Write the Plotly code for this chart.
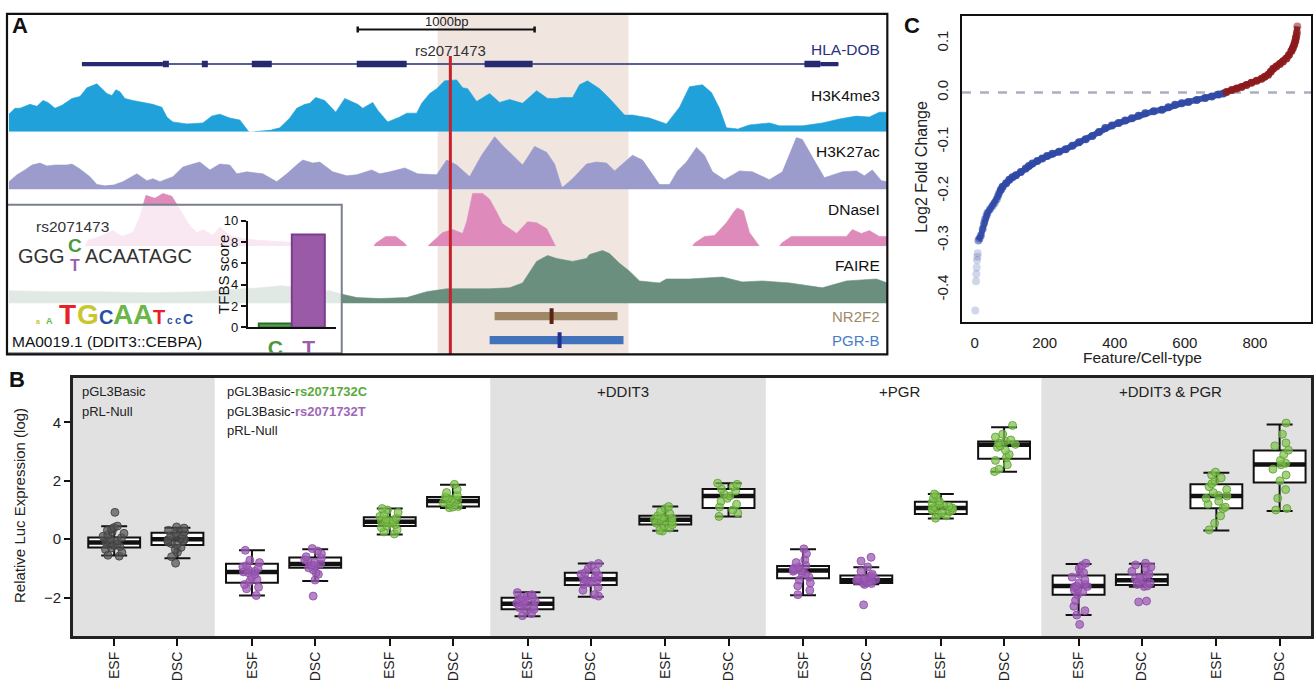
import plotly.graph_objects as go

W, H = 1314, 694
FONT = "Liberation Sans, Arial, Helvetica, sans-serif"


def fx(px):
    return px / W


def fy(py):
    return 1 - py / H


# ------------------------------------------------------------------ Panel A data
# locus positions in track units (1000 bp = 177 units)
locus_range = [7, 888]
scalebar = [358, 535]
snp_pos = 450.7
highlight_region = [438, 629]

gene_name = "HLA-DOB"
gene_span = [82, 839]
exon_start = [82, 163, 202, 252, 357, 485, 805, 821]
exon_end = [163, 169, 208, 272, 407, 533, 821, 839]
exon_type = ["utr", "cds", "cds", "cds", "cds", "cds", "cds", "utr"]

tfbs_names = ["NR2F2", "PGR-B"]
tfbs_start = [495, 490]
tfbs_end = [618, 624]
tfbs_summit = [552, 560]

h3k4me3_pos = [9, 15, 20, 30, 37, 43, 48, 55, 62, 72, 80, 87, 97, 102, 107, 112, 116, 120, 125, 133,
               143, 153, 162, 167, 173, 187, 203, 212, 220, 230, 240, 245, 249,
               260,
               272, 280, 290, 297, 305, 310, 316, 325, 336, 345, 358, 363, 373, 378, 388, 400, 407, 417,
               422, 430, 437, 445, 457, 463, 468, 477, 490, 500, 510, 523, 537, 548, 557, 562, 573, 580,
               588, 600, 610, 625, 633, 650, 667, 680, 690, 703, 712, 720, 727, 737,
               738,
               739, 750, 770, 780, 803, 823, 840, 857, 870, 880, 888]
h3k4me3_sig = [18, 24, 24, 28, 26, 32, 30, 24, 27, 34, 36, 45, 49, 44, 39, 37, 43, 41, 34, 32,
               30, 28, 25, 15, 10, 8, 9, 16, 18, 14, 12, 5, 0,
               None,
               2, 4, 14, 24, 28, 29, 35, 32, 20, 34, 28, 24, 30, 22, 10, 15, 19, 19,
               29, 39, 44, 52, 53, 45, 44, 31, 39, 30, 33, 29, 42, 34, 34, 35, 35, 48,
               52, 44, 34, 17, 17, 14, 8, 25, 46, 48, 40, 24, 4, 3,
               None,
               3, 7, 9, 6, 6, 9, 13, 16, 15, 20, 20]

h3k27ac_pos = [9, 17, 25, 32, 40, 47, 55, 67, 72, 80, 90, 97, 104,
               110,
               115, 123, 137, 147, 153, 160, 173, 183, 193, 200, 210, 220, 230, 237, 247, 263, 277, 287,
               298, 303, 313, 320, 333, 347, 357, 372, 380, 390, 405, 418, 437, 447, 457, 470, 482, 495,
               503, 517, 523, 535, 547, 555, 562,
               563,
               564, 573, 587, 597, 607, 615, 633, 643, 660, 670, 678, 687, 697, 705, 713, 725, 740, 753,
               770, 783, 797, 803, 817, 825, 843, 857, 865, 873, 882, 888]
h3k27ac_sig = [8, 15, 20, 25, 27, 24, 25, 25, 26, 21, 13, 5, 4,
               None,
               5, 8, 16, 9, 11, 8, 13, 23, 26, 28, 20, 26, 25, 16, 18, 16, 8, 16,
               26, 30, 27, 28, 18, 14, 15, 20, 16, 18, 22, 16, 15, 30, 25, 13, 35, 54,
               45, 31, 25, 44, 38, 26, 3,
               None,
               3, 11, 26, 28, 27, 19, 35, 30, 5, 5, 19, 28, 43, 35, 18, 10, 19, 18,
               10, 18, 53, 51, 26, 12, 18, 19, 14, 20, 9, 8]

dnase_pos = [85, 88, 100, 113, 122, 133, 140, 146, 155, 163, 172, 180, 190, 197, 203, 213, 220, 230,
             243, 260, 280, 293, 296,
             330,
             374, 376, 386, 396, 405, 407,
             415,
             428, 430, 443, 453, 463, 467, 473, 483, 490, 497, 503, 517, 528, 537, 547, 556,
             600,
             693, 695, 705, 715, 727, 735, 738, 744, 750, 760,
             770,
             780, 782, 792, 847, 853, 862, 870, 880, 888]
dnase_sig = [0, 6, 10, 16, 10, 14, 30, 52, 49, 54, 51, 38, 21, 14, 17, 11, 20, 11,
             8, 6, 5, 4, 0,
             None,
             0, 3, 10, 10, 3, 0,
             None,
             0, 2, 14, 17, 13, 25, 54, 54, 48, 35, 23, 13, 25, 24, 18, 0,
             None,
             0, 3, 10, 11, 24, 36, 39, 36, 14, 0,
             None,
             0, 3, 10, 10, 17, 13, 16, 10, 10]

faire_pos = [9, 50, 100, 150, 200, 233, 260, 280, 293, 310, 330, 340, 357, 380, 407, 427, 447, 473,
             490, 510, 523, 530, 537, 548, 557, 573, 587, 590, 603, 610, 620, 630, 640, 660, 667,
             690, 723, 743, 763, 790, 823, 847, 877, 888]
faire_sig = [13, 12, 12, 11, 12, 14, 16, 18, 17, 13, 13, 10, 6, 5, 6, 12, 15, 15,
             15, 16, 21, 32, 43, 49, 46, 43, 46, 50, 54, 51, 41, 33, 23, 21, 25,
             25, 27, 22, 23, 21, 16, 23, 25, 21]

snp_id = "rs2071473"
tfbs_alleles = ["C", "T"]
tfbs_score = [0.4, 8.7]

# ------------------------------------------------------------------ Panel B data
cell_types = ["ESF", "DSC"]
section_titles = ["+DDIT3", "+PGR", "+DDIT3 & PGR"]
box_allele = ["null", "null", "T", "T", "C", "C", "T", "T", "C", "C",
              "T", "T", "C", "C", "T", "T", "C", "C"]
box_q1 = [-0.28, -0.20, -1.49, -0.98, 0.45, 1.12, -2.40, -1.57, 0.50, 1.07,
          -1.34, -1.50, 0.86, 2.76, -1.90, -1.57, 1.06, 1.94]
box_median = [-0.11, 0.00, -1.12, -0.85, 0.60, 1.31, -2.21, -1.37, 0.67, 1.48,
              -1.07, -1.41, 1.07, 3.24, -1.60, -1.41, 1.48, 2.56]
box_q3 = [0.06, 0.22, -0.84, -0.63, 0.75, 1.45, -2.01, -1.15, 0.80, 1.72,
          -0.92, -1.24, 1.28, 3.35, -1.24, -1.21, 1.88, 3.04]
box_low = [-0.56, -0.65, -1.93, -1.43, 0.16, 1.07, -2.64, -1.97, 0.29, 0.78,
           -1.92, -1.54, 0.71, 2.31, -2.60, -1.63, 0.30, 0.97]
box_high = [0.44, 0.39, -0.38, -0.34, 1.05, 1.87, -1.82, -0.83, 1.12, 1.92,
            -0.34, -0.96, 1.55, 3.84, -0.85, -0.84, 2.28, 3.93]

null_ESF = [0.92, 0.45, 0.40, 0.35, 0.30, 0.25, 0.2, 0.15, 0.1, 0.05, 0.0, -0.05, -0.1, -0.12,
            -0.15, -0.2, -0.25, -0.3, -0.35, -0.45, -0.55, -0.58]
null_DSC = [0.42, 0.38, 0.3, 0.25, 0.2, 0.15, 0.12, 0.08, 0.02, 0.0, -0.02, -0.05, -0.1, -0.15,
            -0.2, -0.28, -0.35, -0.45, -0.6, -0.82]
T_ESF = [-0.38, -0.72, -0.8, -0.9, -0.95, -1.0, -1.05, -1.1, -1.12, -1.15, -1.2, -1.3, -1.38,
         -1.45, -1.55, -1.65, -1.7, -1.93]
T_DSC = [-0.32, -0.4, -0.5, -0.6, -0.65, -0.7, -0.75, -0.8, -0.85, -0.88, -0.92, -0.98, -1.05,
         -1.15, -1.2, -1.4, -1.95]
C_ESF = [1.05, 1.0, 0.92, 0.85, 0.78, 0.72, 0.68, 0.65, 0.62, 0.6, 0.58, 0.55, 0.5, 0.45, 0.4,
         0.32, 0.25, 0.18]
C_DSC = [1.88, 1.7, 1.6, 1.5, 1.45, 1.4, 1.38, 1.35, 1.3, 1.28, 1.25, 1.22, 1.18, 1.12, 1.1, 1.08]
DDIT3_T_ESF = [-1.83, -1.9, -1.95, -2.0, -2.0, -2.05, -2.1, -2.12, -2.15, -2.2, -2.22, -2.25,
               -2.3, -2.35, -2.4, -2.45, -2.55, -2.62]
DDIT3_T_DSC = [-0.83, -0.9, -1.0, -1.1, -1.15, -1.2, -1.25, -1.3, -1.35, -1.38, -1.4, -1.45,
               -1.5, -1.55, -1.65, -1.75, -1.9, -1.95]
DDIT3_C_ESF = [1.12, 1.05, 0.95, 0.88, 0.8, 0.75, 0.72, 0.7, 0.68, 0.65, 0.62, 0.6, 0.55, 0.5,
               0.45, 0.38, 0.3, 0.28]
DDIT3_C_DSC = [1.92, 1.88, 1.8, 1.72, 1.65, 1.55, 1.48, 1.4, 1.3, 1.2, 1.1, 1.0, 0.9, 0.78]
PGR_T_ESF = [-0.33, -0.5, -0.7, -0.8, -0.9, -0.95, -1.0, -1.0, -1.02, -1.05, -1.08, -1.1, -1.15,
             -1.2, -1.3, -1.4, -1.5, -1.6, -1.75, -1.9]
PGR_T_DSC = [-0.62, -0.75, -0.95, -1.1, -1.2, -1.25, -1.3, -1.33, -1.36, -1.38, -1.4, -1.42,
             -1.45, -1.48, -1.5, -1.52, -1.55, -2.25]
PGR_C_ESF = [1.55, 1.5, 1.4, 1.3, 1.25, 1.2, 1.15, 1.12, 1.1, 1.07, 1.05, 1.0, 0.98, 0.95, 0.9,
             0.85, 0.8, 0.72]
PGR_C_DSC = [3.9, 3.6, 3.5, 3.4, 3.35, 3.3, 3.25, 3.2, 3.15, 3.05, 2.9, 2.8, 2.7, 2.55, 2.4, 2.32]
BOTH_T_ESF = [-0.82, -0.9, -1.0, -1.15, -1.2, -1.3, -1.4, -1.5, -1.55, -1.6, -1.62, -1.65, -1.7,
              -1.75, -1.8, -1.9, -2.1, -2.3, -2.45, -2.6, -2.92]
BOTH_T_DSC = [-0.82, -0.88, -0.95, -1.0, -1.1, -1.2, -1.25, -1.3, -1.35, -1.4, -1.45, -1.5,
              -1.55, -1.6, -1.62, -2.12, -2.15]
BOTH_C_ESF = [2.3, 2.2, 2.1, 2.0, 1.9, 1.8, 1.7, 1.6, 1.5, 1.48, 1.4, 1.3, 1.2, 1.1, 1.05, 0.8,
              0.55, 0.32]
BOTH_C_DSC = [3.98, 3.6, 3.3, 3.2, 3.05, 2.9, 2.7, 2.6, 2.55, 2.4, 2.2, 2.0, 1.7, 1.4, 1.05, 1.0]

box_points = [null_ESF, null_DSC, T_ESF, T_DSC, C_ESF, C_DSC,
              DDIT3_T_ESF, DDIT3_T_DSC, DDIT3_C_ESF, DDIT3_C_DSC,
              PGR_T_ESF, PGR_T_DSC, PGR_C_ESF, PGR_C_DSC,
              BOTH_T_ESF, BOTH_T_DSC, BOTH_C_ESF, BOTH_C_DSC]

# ------------------------------------------------------------------ Panel C data
feature_rank = [2, 4, 5, 6, 7, 8, 9, 11, 14, 18, 23, 27, 30, 34, 37, 44, 51, 57, 63, 67, 70, 75,
                80, 90, 99, 108, 118, 132, 146, 155, 165, 179, 193, 207, 222, 241, 260, 279, 298,
                317, 336, 355, 373, 392, 411, 430, 449, 468, 487, 511, 535, 553, 572, 591, 610,
                634, 658, 677, 696, 710, 719, 734, 748, 762, 776, 790, 805, 819, 828, 838, 845,
                852, 861, 871, 880, 890, 897, 904, 908, 912, 915, 917, 919, 920, 921]
log2fc = [-0.442, -0.383, -0.368, -0.355, -0.340, -0.333, -0.326, -0.300, -0.296, -0.290, -0.277,
          -0.265, -0.257, -0.250, -0.244, -0.237, -0.230, -0.224, -0.217, -0.210, -0.204, -0.197,
          -0.191, -0.184, -0.177, -0.172, -0.168, -0.161, -0.154, -0.149, -0.144, -0.139, -0.134,
          -0.129, -0.124, -0.120, -0.115, -0.108, -0.101, -0.095, -0.088, -0.080, -0.072, -0.067,
          -0.062, -0.057, -0.052, -0.047, -0.042, -0.038, -0.035, -0.030, -0.025, -0.022, -0.019,
          -0.015, -0.011, -0.008, -0.004, -0.002, 0.001, 0.005, 0.008, 0.011, 0.015, 0.020,
          0.024, 0.028, 0.032, 0.036, 0.042, 0.048, 0.053, 0.058, 0.063, 0.069, 0.076, 0.084,
          0.090, 0.097, 0.104, 0.111, 0.117, 0.122, 0.134]

# ------------------------------------------------------------------ figure
fig = go.Figure()

track_specs = [
    ("H3K4me3", h3k4me3_pos, h3k4me3_sig, "#21a1da", "y", 127.5),
    ("H3K27ac", h3k27ac_pos, h3k27ac_sig, "#9b9bcc", "y2", 186.5),
    ("DNaseI", dnase_pos, dnase_sig, "#de8bbb", "y3", 244.5),
    ("FAIRE", faire_pos, faire_sig, "#6a8f7f", "y4", 303.0),
]
TRACK_H = 56
for name, pos, sig, col, yax, base in track_specs:
    fig.add_trace(go.Scatter(x=pos, y=sig, mode="lines", fill="tozeroy", fillcolor=col,
                             line=dict(color=col, width=0.6), xaxis="x", yaxis=yax,
                             hoverinfo="skip", connectgaps=False))

# translucent white inset background (drawn over tracks, under inset bar chart)
fig.add_trace(go.Scatter(x=[7, 342, 342, 7, 7], y=[202, 202, 354, 354, 202], mode="lines",
                         fill="toself", fillcolor="rgba(255,255,255,0.80)",
                         line=dict(width=0), xaxis="x", yaxis="y5", hoverinfo="skip"))

# inset bar chart
allele_fill = {"C": "#55a24c", "T": "#9a5aa8"}
allele_edge = {"C": "#2d6a2d", "T": "#7a3d8c"}
fig.add_trace(go.Bar(x=[0, 1], y=tfbs_score, width=0.98,
                     marker=dict(color=[allele_fill[a] for a in tfbs_alleles],
                                 line=dict(color=[allele_edge[a] for a in tfbs_alleles], width=2)),
                     xaxis="x2", yaxis="y6", hoverinfo="skip"))

# panel C
blue = "rgb(47,72,165)"
red = "rgb(140,26,28)"
for sel, col in [(lambda v: v <= 0, blue), (lambda v: v > 0, red)]:
    xs = [r for r, v in zip(feature_rank, log2fc) if sel(v) and v > -0.31]
    ys = [v for v in log2fc if sel(v) and v > -0.31]
    fig.add_trace(go.Scatter(x=xs, y=ys, mode="lines", line=dict(color=col, width=6),
                             opacity=0.9, xaxis="x3", yaxis="y7", hoverinfo="skip"))
pt_colors = [red if v > 0 else blue for v in log2fc]
pt_opac = [0.22 if (v < -0.31) else (0.55 if v < -0.2 or v > 0.115 else 0.9) for v in log2fc]
fig.add_trace(go.Scatter(x=feature_rank, y=log2fc, mode="markers",
                         marker=dict(color=pt_colors, size=8, opacity=pt_opac,
                                     line=dict(width=0)),
                         xaxis="x3", yaxis="y7", hoverinfo="skip"))

# panel B
pair_step = 2.178
box_x = [p * pair_step + j for p in range(9) for j in (0, 1)]
fig.add_trace(go.Box(x=box_x, q1=box_q1, median=box_median, q3=box_q3,
                     lowerfence=box_low, upperfence=box_high, width=0.82, whiskerwidth=0.5,
                     fillcolor="white", line=dict(color="#111", width=2), boxpoints=False,
                     xaxis="x4", yaxis="y8", hoverinfo="skip"))
fig.add_trace(go.Box(x=box_x, q1=box_median, median=box_median, q3=box_median,
                     lowerfence=box_median, upperfence=box_median, width=0.82, whiskerwidth=0,
                     fillcolor="rgba(0,0,0,0)", line=dict(color="#111", width=4.5),
                     boxpoints=False, xaxis="x4", yaxis="y8", hoverinfo="skip"))
point_style = {
    "null": ("rgba(85,85,85,0.72)", "rgba(60,60,60,0.8)"),
    "T": ("rgba(158,92,182,0.75)", "rgba(140,75,165,0.8)"),
    "C": ("rgba(128,194,76,0.72)", "rgba(95,160,55,0.85)"),
}
for allele, (fc, lc) in point_style.items():
    xs, ys = [], []
    for bx, al, pts in zip(box_x, box_allele, box_points):
        if al == allele:
            xs += [bx] * len(pts)
            ys += pts
    fig.add_trace(go.Box(x=xs, y=ys, boxpoints="all", jitter=0.45, pointpos=0, width=0.82,
                         fillcolor="rgba(0,0,0,0)", line=dict(width=0),
                         marker=dict(color=fc, size=8, line=dict(color=lc, width=1)),
                         xaxis="x4", yaxis="y8", hoverinfo="skip"))

# ------------------------------------------------------------------ shapes
shapes = []


def rect(x0, x1, y0, y1, fill, xref="x", yref="y5", layer="above", lc=None, lw=0, opacity=1):
    shapes.append(dict(type="rect", x0=x0, x1=x1, y0=y0, y1=y1, xref=xref, yref=yref,
                       fillcolor=fill, layer=layer, opacity=opacity,
                       line=dict(color=lc or fill, width=lw)))


def line(x0, x1, y0, y1, color, width, xref="x", yref="y5", layer="above", dash=None):
    shapes.append(dict(type="line", x0=x0, x1=x1, y0=y0, y1=y1, xref=xref, yref=yref,
                       layer=layer, line=dict(color=color, width=width, dash=dash)))


# highlight band (behind everything)
shapes.append(dict(type="rect", x0=highlight_region[0], x1=highlight_region[1], y0=fy(355),
                   y1=fy(8), xref="x", yref="paper", fillcolor="#f1e5e0", layer="below",
                   line=dict(width=0)))
# gene model
gene_y = 58.3
line(gene_span[0], gene_span[1], gene_y, gene_y, "#262a70", 1.4)
for s, e, t in zip(exon_start, exon_end, exon_type):
    hh = 2.2 if t == "utr" else 3.4
    rect(s, e, gene_y - hh, gene_y + hh, "#262a70")
# scale bar
line(scalebar[0], scalebar[1], 23, 23, "#111", 2.2)
line(scalebar[0], scalebar[0], 20, 26, "#111", 2.5)
line(scalebar[1], scalebar[1], 20, 26, "#111", 2.5)
# TF binding sites
tf_y = [316, 340.5]
tf_bar = ["#a08866", "#4273ba"]
tf_tick = ["#5a2414", "#232f8c"]
for i in range(len(tfbs_names)):
    rect(tfbs_start[i], tfbs_end[i], tf_y[i] - 4.2, tf_y[i] + 4.2, tf_bar[i])
    rect(tfbs_summit[i] - 2, tfbs_summit[i] + 2, tf_y[i] - 8, tf_y[i] + 8, tf_tick[i])
# SNP line
line(snp_pos, snp_pos, 50, 355, "#c5222b", 3)
# inset border + panel A frame
shapes.append(dict(type="rect", x0=fx(7), x1=fx(342), y0=fy(354), y1=fy(202), xref="paper",
                   yref="paper", line=dict(color="#7a808e", width=2), layer="above"))
shapes.append(dict(type="rect", x0=fx(7), x1=fx(888), y0=fy(355), y1=fy(7), xref="paper",
                   yref="paper", line=dict(color="#111", width=2.2), layer="above"))
# panel B section backgrounds
bounds = [-0.652] + [(p * pair_step + 1 + (p + 1) * pair_step) / 2 for p in (0, 2, 4, 6)] + [18.92]
for k in range(5):
    if k % 2 == 0:
        shapes.append(dict(type="rect", x0=bounds[k], x1=bounds[k + 1], y0=0, y1=1, xref="x4",
                           yref="y8 domain", fillcolor="#e1e1e1", layer="below",
                           line=dict(width=0)))
# panel C dashed zero line
shapes.append(dict(type="line", x0=0, x1=1, y0=0, y1=0, xref="x3 domain", yref="y7",
                   layer="below", line=dict(color="#a9aec0", width=2.5, dash="dash")))

# ------------------------------------------------------------------ annotations
anns = []


def ann(text, x, y, size, color="#222", xanchor="center", yanchor="middle", angle=0,
        family=FONT):
    anns.append(dict(text=text, x=fx(x), y=fy(y), xref="paper", yref="paper", showarrow=False,
                     xanchor=xanchor, yanchor=yanchor, textangle=angle,
                     font=dict(family=family, size=size, color=color)))


ann("<b>A</b>", 20, 19, 22, "#111")
ann("<b>B</b>", 17, 381, 22, "#111")
ann("<b>C</b>", 913, 19, 22, "#111")
ann("1000bp", 447, 15, 13)
ann(snp_id, 450.5, 44, 15, "#333")
ann(gene_name, 883, 43, 15.5, "#2b3080", xanchor="right")
track_label_y = [90, 148, 207, 264]
for (name, *_), ly in zip(track_specs, track_label_y):
    ann(name, 883, ly, 15.5, "#111", xanchor="right")
ann(tfbs_names[0], 883, 316.5, 15, "#a08866", xanchor="right")
ann(tfbs_names[1], 883, 341, 15, "#4a7cc8", xanchor="right")

# inset texts
ann(snp_id, 73, 224, 15.5, "#333")
ann("GGG", 41.5, 255, 20, "#333")
ann("<b>C</b>", 75, 244, 19, "#4a9a3a")
ann("<b>T</b>", 75, 264, 16, "#9d5cb0")
ann("ACAATAGC", 139, 255, 20, "#333")
ann("MA0019.1 (DDIT3::CEBPA)", 107.5, 342, 15.5, "#111")
ann("TFBS score", 223, 273, 15, "#111", angle=-90)
logo = [("T", "#e8202a", 68, 28), ("G", "#c9c62e", 88, 28), ("C", "#2b4fa8", 106, 20),
        ("A", "#6ab646", 123, 28), ("A", "#6ab646", 143, 28), ("T", "#e8202a", 159, 20),
        ("c", "#2b4fa8", 170, 10), ("c", "#2b4fa8", 178, 11), ("C", "#2b4fa8", 188, 14),
        ("A", "#6ab646", 50, 9), ("a", "#c9c62e", 38, 7)]
for ch, col, x, sz in logo:
    ann("<b>%s</b>" % ch, x, 325 + 0.22 * sz + 1, sz, col, yanchor="bottom")

# panel B texts
ann("pGL3Basic", 80, 393, 13, "#222", xanchor="left")
ann("pRL-Null", 80, 413, 13, "#222", xanchor="left")
ann("pGL3Basic-<span style='color:#5aab3a'><b>rs2071732C</b></span>", 225, 393, 13, "#222",
    xanchor="left")
ann("pGL3Basic-<span style='color:#a066b8'><b>rs2071732T</b></span>", 225, 413, 13, "#222",
    xanchor="left")
ann("pRL-Null", 225, 433, 13, "#222", xanchor="left")
for t, xc in zip(section_titles, [623, 900, 1171]):
    ann(t, xc, 393, 15, "#222")
ann("Relative Luc Expression (log)", 20, 509, 15, "#222", angle=-90)

# panel C texts
ann("Log2 Fold Change", 922, 163, 16, "#222", angle=-90)
ann("Feature/Cell-type", 1143, 358, 15.5, "#222")

# ------------------------------------------------------------------ layout
hidden = dict(visible=False, showgrid=False, zeroline=False, fixedrange=True)
layout = dict(
    width=W, height=H, autosize=False, margin=dict(l=0, r=0, t=0, b=0),
    paper_bgcolor="white", plot_bgcolor="rgba(0,0,0,0)", showlegend=False,
    font=dict(family=FONT, color="#222"), boxmode="overlay", bargap=0,
    shapes=shapes, annotations=anns,
    xaxis=dict(domain=[fx(7), fx(888)], range=locus_range, anchor="y", **hidden),
)
for yax, (name, pos, sig, col, yid, base) in zip(["yaxis", "yaxis2", "yaxis3", "yaxis4"],
                                                  track_specs):
    layout[yax] = dict(domain=[fy(base), fy(base - TRACK_H)], range=[0, TRACK_H], anchor="x",
                       **hidden)
layout["yaxis5"] = dict(domain=[fy(355), fy(7)], range=[355, 7], anchor="x", **hidden)

# inset bar axes
layout["xaxis2"] = dict(domain=[fx(248), fx(336)], range=[-0.82, 1.81], anchor="y6",
                        showline=True, linecolor="#111", linewidth=2, ticks="",
                        tickvals=[0, 1],
                        ticktext=["<b><span style='color:#4a9a3a'>C</span></b>",
                                  "<b><span style='color:#9d5cb0'>T</span></b>"],
                        tickfont=dict(size=21), showgrid=False, zeroline=False,
                        fixedrange=True)
layout["yaxis6"] = dict(domain=[fy(327.5), fy(218.3)], range=[0, 10], anchor="x2",
                        showline=True, linecolor="#111", linewidth=2, ticks="outside",
                        ticklen=5, tickwidth=2, tickcolor="#111", tickvals=[0, 2, 4, 6, 8, 10],
                        tickfont=dict(size=13, color="#111"), showgrid=False, zeroline=False,
                        fixedrange=True)

# panel C axes
layout["xaxis3"] = dict(domain=[fx(962.7), fx(1312)], range=[-36, 960], anchor="y7",
                        showline=True, mirror=True, linecolor="#111", linewidth=2, ticks="",
                        tickvals=[0, 200, 400, 600, 800], tickfont=dict(size=15, color="#222"),
                        ticklabelstandoff=6, showgrid=False, zeroline=False, fixedrange=True)
layout["yaxis7"] = dict(domain=[fy(321.7), fy(9.3)], range=[-0.465, 0.155], anchor="x3",
                        showline=True, mirror=True, linecolor="#111", linewidth=2, ticks="",
                        tickvals=[-0.4, -0.3, -0.2, -0.1, 0.0, 0.1],
                        ticktext=["-0.4", "-0.3", "-0.2", "-0.1", "0.0", "0.1"],
                        tickangle=-90, tickfont=dict(size=15, color="#222"),
                        ticklabelstandoff=6, showgrid=False, zeroline=False, fixedrange=True)

# panel B axes
layout["xaxis4"] = dict(domain=[fx(73), fx(1312)], range=[-0.652, 18.92], anchor="y8",
                        showline=True, mirror=True, linecolor="#222", linewidth=2.5,
                        ticks="outside", ticklen=7, tickwidth=2, tickcolor="#111",
                        tickvals=box_x, ticktext=cell_types * 9, tickangle=-90,
                        tickfont=dict(size=14, color="#222"), showgrid=False, zeroline=False,
                        fixedrange=True)
layout["yaxis8"] = dict(domain=[fy(643.3), fy(379.3)], range=[-3.33, 5.52], anchor="x4",
                        showline=True, mirror=True, linecolor="#222", linewidth=2.5,
                        ticks="outside", ticklen=6, tickwidth=2, tickcolor="#111",
                        tickvals=[-2, 0, 2, 4], tickfont=dict(size=15, color="#222"),
                        showgrid=False, zeroline=False, fixedrange=True)

fig.update_layout(**layout)
fig.write_html("out.html", config={"displayModeBar": False},
               post_script="document.body.style.margin='0';"
                           "document.body.style.overflow='hidden';")
